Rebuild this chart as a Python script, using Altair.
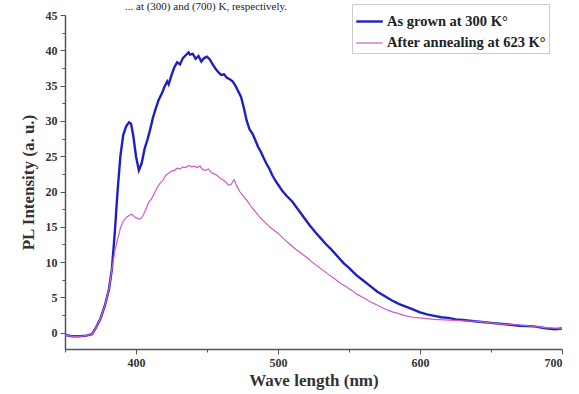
import altair as alt
import pandas as pd

blue_wl = [350, 355, 360, 365, 369, 372, 375, 378, 381, 383, 385, 387, 389, 391, 393, 395, 396.5, 398, 400, 402,
           404, 406, 408, 410, 412, 414, 416, 418, 420, 422, 423, 425, 427, 429, 431, 433, 435, 437, 438, 440,
           442, 444, 446, 448, 450, 452, 454, 456, 458, 460, 462, 464, 466, 468, 470, 472, 474, 476, 478, 480,
           482, 484, 486, 488, 490, 492, 494, 496, 498, 500, 503, 506, 510, 514, 518, 522, 526, 530, 534, 538,
           542, 546, 550, 555, 560, 565, 570, 575, 580, 585, 590, 595, 600, 605, 610, 615, 620, 625, 630, 640,
           650, 660, 670, 680, 690, 695, 700]
blue_pl = [-0.3, -0.5, -0.5, -0.4, -0.2, 0.8, 2.0, 3.8, 6.2, 9.0, 14.0, 20.0, 25.0, 28.0, 29.2, 29.8, 29.6, 28.0, 25.0, 23.0,
           24.0, 26.0, 27.3, 28.8, 30.5, 31.8, 33.0, 33.8, 34.8, 35.6, 35.2, 36.5, 37.6, 38.3, 38.0, 38.9, 39.3, 39.7, 39.4, 39.5,
           38.8, 39.2, 38.4, 38.9, 39.1, 38.7, 38.0, 37.4, 36.9, 36.5, 36.6, 36.1, 35.9, 35.6, 35.0, 34.2, 33.4, 31.8, 30.0, 28.8,
           28.2, 27.3, 26.3, 25.6, 24.7, 23.9, 23.2, 22.3, 21.6, 21.0, 20.1, 19.4, 18.6, 17.5, 16.4, 15.3, 14.3, 13.4, 12.5, 11.7,
           10.8, 9.9, 9.2, 8.2, 7.4, 6.6, 5.8, 5.2, 4.6, 4.1, 3.7, 3.3, 2.9, 2.6, 2.4, 2.2, 2.1, 1.9, 1.8, 1.6,
           1.4, 1.2, 1.0, 0.9, 0.6, 0.5, 0.6]

pink_wl = [350, 355, 360, 365, 369, 372, 375, 378, 381, 383, 385, 387, 389, 391, 393, 395, 397, 399, 401, 403,
           405, 407, 409, 411, 413, 415, 417, 419, 421, 423, 425, 427, 429, 431, 433, 435, 437, 439, 441, 443,
           445, 447, 449, 451, 453, 455, 457, 459, 461, 463, 465, 467, 469, 471, 473, 475, 477, 479, 481, 483,
           485, 487, 490, 493, 496, 500, 504, 508, 512, 516, 520, 524, 528, 532, 536, 540, 544, 548, 552, 556,
           560, 565, 570, 575, 580, 585, 590, 595, 600, 605, 610, 620, 630, 640, 650, 660, 670, 680, 690, 700]
pink_pl = [-0.3, -0.5, -0.5, -0.4, -0.2, 0.8, 2.0, 3.8, 6.2, 9.0, 11.5, 13.2, 14.8, 15.8, 16.3, 16.6, 16.8, 16.4, 16.2, 16.1,
           16.6, 17.5, 18.5, 19.0, 19.8, 20.6, 21.2, 21.6, 22.3, 22.6, 22.9, 23.0, 23.3, 23.2, 23.5, 23.4, 23.7, 23.5, 23.6, 23.4,
           23.6, 23.1, 23.0, 23.2, 22.7, 22.5, 22.3, 21.9, 21.7, 21.4, 20.9, 21.0, 21.7, 20.8, 20.0, 19.5, 19.0, 18.5, 17.9, 17.4,
           16.9, 16.4, 15.8, 15.2, 14.7, 14.1, 13.3, 12.6, 11.9, 11.3, 10.7, 10.0, 9.4, 8.8, 8.2, 7.6, 7.0, 6.5, 6.0, 5.4,
           5.0, 4.4, 3.9, 3.4, 3.0, 2.7, 2.4, 2.2, 2.1, 2.0, 1.9, 1.8, 1.7, 1.6, 1.4, 1.2, 1.1, 0.9, 0.7, 0.6]

series_names = ["As grown at 300 K°", "After annealing at 623 K°"]
series_colors = ["#2020c0", "#cc5acc"]
x_ticks = [350, 400, 450, 500, 550, 600, 650, 700]
y_ticks = [0, 2.5, 5, 7.5, 10, 12.5, 15, 17.5, 20, 22.5, 25, 27.5, 30, 32.5, 35, 37.5, 40, 42.5, 45]
caption = ["... at (300) and (700) K, respectively."]

df = pd.concat([
    pd.DataFrame({"wl": blue_wl, "pl": blue_pl, "series": series_names[0], "ord": 0}),
    pd.DataFrame({"wl": pink_wl, "pl": pink_pl, "series": series_names[1], "ord": 1}),
])

FONT = "Liberation Serif"

lines = alt.Chart(df).mark_line(clip=True).encode(
    x=alt.X("wl:Q", scale=alt.Scale(domain=[350, 700], nice=False, zero=False),
            axis=alt.Axis(title="Wave length (nm)", values=x_ticks,
                          labelExpr="datum.value % 100 === 0 ? datum.label : ''",
                          tickSize={"condition": {"test": "datum.value % 100 === 0", "value": 5}, "value": 3},
                          grid=False)),
    y=alt.Y("pl:Q", scale=alt.Scale(domain=[-2.3, 45], nice=False, zero=False),
            axis=alt.Axis(title="PL Intensity (a. u.)", values=y_ticks,
                          labelExpr="datum.value % 5 === 0 ? datum.label : ''",
                          tickSize={"condition": {"test": "datum.value % 5 === 0", "value": 5}, "value": 3},
                          grid=False)),
    color=alt.Color("series:N", scale=alt.Scale(domain=series_names, range=series_colors),
                    legend=alt.Legend(title=None, orient="none", legendX=287, legendY=-11,
                                      symbolType="stroke", symbolSize=700, symbolStrokeWidth=2.2,
                                      labelFont=FONT, labelFontWeight="bold", labelFontSize=14.5,
                                      labelColor="#222222", labelOffset=3,
                                      labelLimit=400, fillColor="white", strokeColor="#cccccc",
                                      padding=3, rowPadding=1, offset=0)),
    strokeWidth=alt.StrokeWidth("series:N", scale=alt.Scale(domain=series_names, range=[2.4, 1.2]), legend=None),
    order="ord:Q",
)

cap = alt.Chart(pd.DataFrame({"t": caption})).mark_text(
    font=FONT, fontSize=11, align="left", baseline="top", color="#222222"
).encode(text="t:N", x=alt.value(60), y=alt.value(-14))

chart = alt.layer(lines, cap).properties(
    width=497, height=334,
    padding={"left": 65, "top": 15, "right": 17, "bottom": 45},
    autosize=alt.AutoSizeParams(type="none"),
).configure_view(stroke=None).configure_axis(
    labelFont=FONT, labelFontWeight="bold", labelFontSize=12, labelColor="#333333",
    titleFont=FONT, titleFontWeight="bold", titleFontSize=17, titleColor="#333333",
    domainColor="#555555", tickColor="#555555", domainWidth=1.5,
).configure_axisX(titlePadding=4, labelPadding=3).configure_axisY(titlePadding=8, labelPadding=3)

chart.save("out.html", embed_options={"renderer": "svg", "actions": False})
